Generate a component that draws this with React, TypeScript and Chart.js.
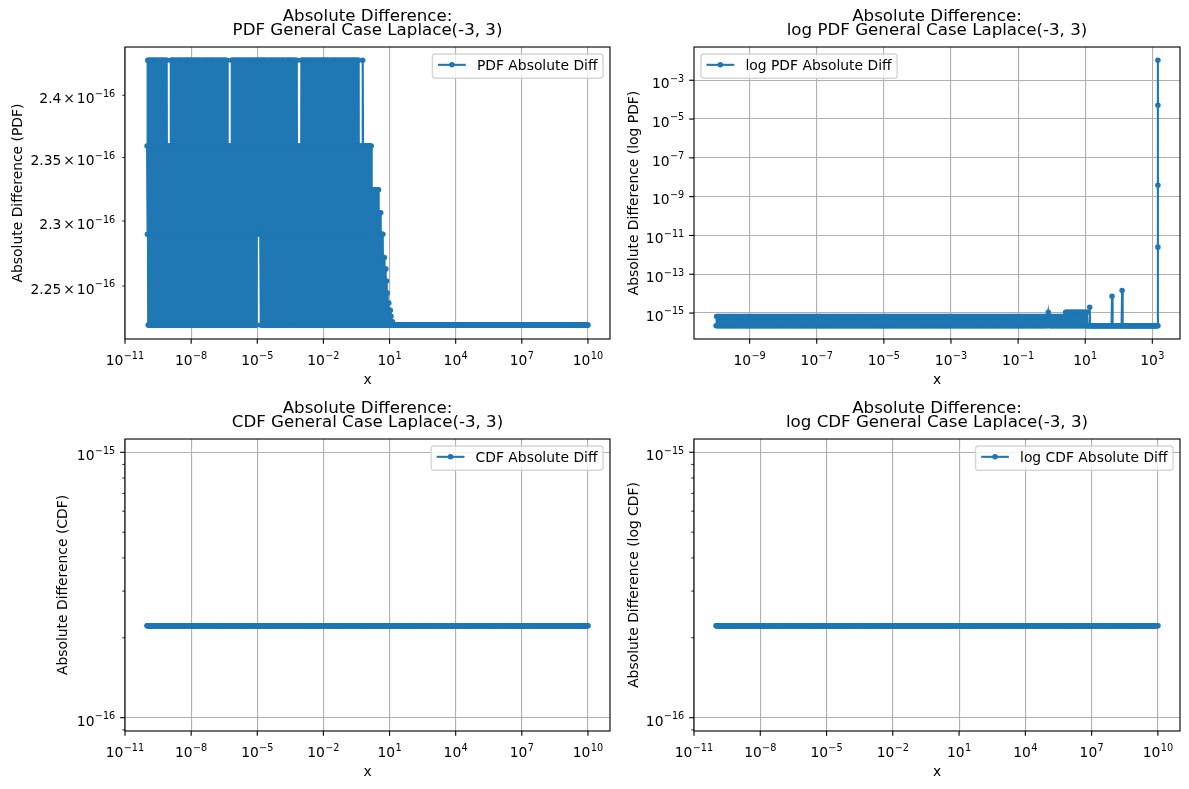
import React, { useEffect, useRef } from 'react';
import { Chart, registerables } from 'chart.js';

Chart.register(...registerables);

// ---------------- figure constants ----------------
const FIG_W = 1189;
const FIG_H = 789;
const BLUE = '#1f77b4';
const FONT = '"DejaVu Sans", "Liberation Sans", sans-serif';
const PT = 100 / 72;
const TICK_PX = 10 * PT;
const SUP_PX = 0.7 * TICK_PX;
const TITLE_PX = 12 * PT;

// ---------------- data ----------------
// sampling grid: 60 points per decade starting at 1e-10
const POINTS_PER_DECADE = 60;
const FIRST_EXPONENT = -10;

// PDF absolute difference (+eps); level codes -> value in units of 1e-16
const PDF_LEVEL_VALUES: Record<string, number> = {
  '0': 2.2204, '1': 2.2898, '2': 2.3592, '3': 2.4286,
  a: 2.3245, b: 2.3065, c: 2.2718, d: 2.263, e: 2.2538,
  f: 2.2446, g: 2.237, h: 2.2315, j: 2.227, k: 2.223,
};
const ZERO_DECADE = '0000000000 0000000000 0000000000 0000000000 0000000000 0000000000';
const PDF_DIFF_CODES = [
  '2130303203 0230310303 0303023103 0320301303 0310302303 0301302020', // 1e-10
  '2010230303 0303103023 0130303203 0303203013 0230310303 0310302303', // 1e-9
  '0320301303 0303023103 0303103023 0310302303 0130303203 0230310303', // 1e-8
  '0303203013 0303103023 0303023103 0302310130 2010201020 3031030303', // 1e-7
  '0230310303 0130303203 0310302303 0320301303 0303103023 0302303103', // 1e-6
  '1313121313 0303023103 0303203013 0230310303 0320301303 0130303203', // 1e-5
  '0310302303 0303103023 0130303203 0303023103 0302310230 2010201020', // 1e-4
  '3030310303 0320301303 0303203013 0303103023 0310302303 0230310303', // 1e-3
  '0130303203 0303023103 0230310303 0303203013 0320301303 0303103023', // 1e-2
  '0310302303 0320301303 0303023103 0302303020 1020102320 2020202020', // 1e-1
  '2020202020 20a0a0a0a0 a0a0a0a0a0 a0b0b0b010 1010c0c0d0 d0e0f0g0g0', // 1e0
  'h0h0j0k0k0 0000000000 0000000000 0000000000 0000000000 0000000000', // 1e1
  ZERO_DECADE, ZERO_DECADE, ZERO_DECADE, ZERO_DECADE, // 1e2 .. 1e5
  ZERO_DECADE, ZERO_DECADE, ZERO_DECADE, ZERO_DECADE, // 1e6 .. 1e9
  '0', // 1e10
];

// log PDF absolute difference (+eps); level codes -> value
const LOGPDF_LEVEL_VALUES: Record<string, number> = {
  '0': 2.220446e-16, '1': 6.661338e-16, '2': 1.110223e-15,
  '3': 1.998401e-15, '4': 7.327472e-15, '5': 1.44329e-14,
};
const BAND_DECADE = '0101010101 0101010101 0101010101 0101010101 0101010101 0101010101';
const LOGPDF_DIFF_CODES = [
  BAND_DECADE, BAND_DECADE, BAND_DECADE, BAND_DECADE, BAND_DECADE, // 1e-10 .. 1e-6
  BAND_DECADE, BAND_DECADE, BAND_DECADE, BAND_DECADE, // 1e-5 .. 1e-2
  '0101010101 0101010101 0101010101 0101010101 0101010101 0101210101', // 1e-1
  '0101010101 0101010101 0101020202 0202020202 0202020202 0202020202', // 1e0
  '0202000030 0000000000 0000000000 0000000000 0000000040 0000000000', // 1e1
  '0000005000 0000000000 0000000000 0000000000 0000000000 0000000000', // 1e2
  '00000000000', // 1e3 .. ~1.47e3
];
// final vertical run of points at the last x of the log PDF series
const LOGPDF_DIFF_SPIKE = [2.5e-12, 3.9e-9, 5.1e-5, 1.07e-2];

// CDF / log CDF absolute differences (+eps): constant at eps over the whole grid
const CDF_ABS_DIFF = 2.220446e-16;
const LOGCDF_ABS_DIFF = 2.220446e-16;
const GRID_COUNT = 1201; // 1e-10 .. 1e10

// ticks
const X_TICKS_WIDE = [1e-11, 1e-8, 1e-5, 1e-2, 1e1, 1e4, 1e7, 1e10];
const X_TICKS_LOGPDF = [1e-9, 1e-7, 1e-5, 1e-3, 1e-1, 1e1, 1e3];
const Y_TICKS_PDF = [2.25e-16, 2.3e-16, 2.35e-16, 2.4e-16];
const Y_TICK_MANTISSAS_PDF = ['2.25', '2.3', '2.35', '2.4'];
const Y_TICKS_LOGPDF = [1e-15, 1e-13, 1e-11, 1e-9, 1e-7, 1e-5, 1e-3];
const Y_TICKS_CDF = [1e-16, 1e-15];
const Y_MINOR_CDF = [9e-17, 2e-16, 3e-16, 4e-16, 5e-16, 6e-16, 7e-16, 8e-16, 9e-16];

// ---------------- helpers ----------------
type Pt = { x: number; y: number };

function gridX(k: number): number {
  return Math.pow(10, FIRST_EXPONENT + k / POINTS_PER_DECADE);
}

function decode(codes: string[], levels: Record<string, number>, unit: number): Pt[] {
  const chars = codes.join('').replace(/\s+/g, '');
  return Array.from(chars, (c, k) => ({ x: gridX(k), y: levels[c] * unit }));
}

const PDF_POINTS = decode(PDF_DIFF_CODES, PDF_LEVEL_VALUES, 1e-16);
const LOGPDF_POINTS = (() => {
  const pts = decode(LOGPDF_DIFF_CODES, LOGPDF_LEVEL_VALUES, 1);
  const lastX = pts[pts.length - 1].x;
  LOGPDF_DIFF_SPIKE.forEach((v) => pts.push({ x: lastX, y: v }));
  return pts;
})();
const CDF_POINTS: Pt[] = Array.from({ length: GRID_COUNT }, (_, k) => ({ x: gridX(k), y: CDF_ABS_DIFF }));
const LOGCDF_POINTS: Pt[] = Array.from({ length: GRID_COUNT }, (_, k) => ({ x: gridX(k), y: LOGCDF_ABS_DIFF }));

type Box = { l: number; r: number; t: number; b: number };
type Panel = {
  id: string;
  box: Box;
  title: string;
  ylabel: string;
  ylabelX: number;
  legend: string;
  legendLoc: 'left' | 'right';
  points: Pt[];
  xMin: number;
  xMax: number;
  xTicks: number[];
  yMin: number;
  yMax: number;
  yMajor: number[];
  yMinor: number[];
  yGrid: boolean;
  yMantissas?: string[];
};

const PANELS: Panel[] = [
  {
    id: 'pdf',
    box: { l: 125, r: 610, t: 47, b: 339 },
    title: 'PDF General Case Laplace(-3, 3)',
    ylabel: 'Absolute Difference (PDF)',
    ylabelX: 21.5,
    legend: 'PDF Absolute Diff',
    legendLoc: 'right',
    points: PDF_POINTS,
    xMin: 1e-11, xMax: 1e11, xTicks: X_TICKS_WIDE,
    yMin: 2.2105e-16, yMax: 2.4395e-16,
    yMajor: [], yMinor: Y_TICKS_PDF, yGrid: false, yMantissas: Y_TICK_MANTISSAS_PDF,
  },
  {
    id: 'logpdf',
    box: { l: 694, r: 1180, t: 47, b: 339 },
    title: 'log PDF General Case Laplace(-3, 3)',
    ylabel: 'Absolute Difference (log PDF)',
    ylabelX: 638,
    legend: 'log PDF Absolute Diff',
    legendLoc: 'left',
    points: LOGPDF_POINTS,
    xMin: Math.pow(10, -10.658), xMax: Math.pow(10, 3.825), xTicks: X_TICKS_LOGPDF,
    yMin: Math.pow(10, -16.338), yMax: Math.pow(10, -1.286),
    yMajor: Y_TICKS_LOGPDF, yMinor: [], yGrid: true,
  },
  {
    id: 'cdf',
    box: { l: 125, r: 610, t: 439, b: 731 },
    title: 'CDF General Case Laplace(-3, 3)',
    ylabel: 'Absolute Difference (CDF)',
    ylabelX: 66.5,
    legend: 'CDF Absolute Diff',
    legendLoc: 'right',
    points: CDF_POINTS,
    xMin: 1e-11, xMax: 1e11, xTicks: X_TICKS_WIDE,
    yMin: Math.pow(10, -16.05), yMax: Math.pow(10, -14.95),
    yMajor: Y_TICKS_CDF, yMinor: Y_MINOR_CDF, yGrid: true,
  },
  {
    id: 'logcdf',
    box: { l: 694, r: 1180, t: 439, b: 731 },
    title: 'log CDF General Case Laplace(-3, 3)',
    ylabel: 'Absolute Difference (log CDF)',
    ylabelX: 638,
    legend: 'log CDF Absolute Diff',
    legendLoc: 'right',
    points: LOGCDF_POINTS,
    xMin: 1e-11, xMax: 1e11, xTicks: X_TICKS_WIDE,
    yMin: Math.pow(10, -16.05), yMax: Math.pow(10, -14.95),
    yMajor: Y_TICKS_CDF, yMinor: Y_MINOR_CDF, yGrid: true,
  },
];

function drawSci(
  ctx: CanvasRenderingContext2D,
  mant: string | null,
  exp: number,
  x: number,
  baseline: number,
  align: 'center' | 'right',
) {
  const big = `${TICK_PX}px ${FONT}`;
  const small = `${SUP_PX}px ${FONT}`;
  const expText = (exp < 0 ? '\u2212' : '') + String(Math.abs(exp));
  const pieces: [string, string, number, number][] = [];
  if (mant !== null) {
    pieces.push([mant, big, 0, 0]);
    pieces.push(['\u00d7', big, 1.9, 0]);
    pieces.push(['10', big, 1.9, 0]);
  } else {
    pieces.push(['10', big, 0, 0]);
  }
  pieces.push([expText, small, 0.3, -6.5]);
  let total = 0;
  const widths = pieces.map(([t, f, dx]) => {
    ctx.font = f;
    const w = ctx.measureText(t).width;
    total += dx + w;
    return w;
  });
  let cx = align === 'center' ? x - total / 2 : x - total;
  ctx.textAlign = 'left';
  ctx.textBaseline = 'alphabetic';
  ctx.fillStyle = '#000';
  pieces.forEach(([t, f, dx, dy], i) => {
    cx += dx;
    ctx.font = f;
    ctx.fillText(t, cx, baseline + dy);
    cx += widths[i];
  });
}

function roundRectPath(ctx: CanvasRenderingContext2D, x: number, y: number, w: number, h: number, r: number) {
  ctx.beginPath();
  ctx.moveTo(x + r, y);
  ctx.lineTo(x + w - r, y);
  ctx.arcTo(x + w, y, x + w, y + r, r);
  ctx.lineTo(x + w, y + h - r);
  ctx.arcTo(x + w, y + h, x + w - r, y + h, r);
  ctx.lineTo(x + r, y + h);
  ctx.arcTo(x, y + h, x, y + h - r, r);
  ctx.lineTo(x, y + r);
  ctx.arcTo(x, y, x + r, y, r);
  ctx.closePath();
}

function makeDecor(p: Panel) {
  return {
    id: 'decor_' + p.id,
    afterDraw(chart: any) {
      const ctx: CanvasRenderingContext2D = chart.ctx;
      const { left, right, top, bottom } = chart.chartArea;
      const xs = chart.scales.x;
      const ys = chart.scales.y;
      ctx.save();

      // spines
      ctx.strokeStyle = '#000';
      ctx.lineWidth = 0.8 * PT;
      ctx.strokeRect(left, top, right - left, bottom - top);

      // x ticks + labels
      ctx.lineWidth = 0.8 * PT;
      p.xTicks.forEach((v) => {
        const px = xs.getPixelForValue(v);
        ctx.beginPath();
        ctx.moveTo(px, bottom);
        ctx.lineTo(px, bottom + 3.5 * PT);
        ctx.stroke();
        drawSci(ctx, null, Math.round(Math.log10(v)), px, bottom + 26, 'center');
      });

      // y major ticks
      p.yMajor.forEach((v) => {
        const py = ys.getPixelForValue(v);
        ctx.lineWidth = 0.8 * PT;
        ctx.beginPath();
        ctx.moveTo(left, py);
        ctx.lineTo(left - 3.5 * PT, py);
        ctx.stroke();
        drawSci(ctx, null, Math.round(Math.log10(v)), left - 7 * PT, py + 7.8, 'right');
      });
      // y minor ticks
      p.yMinor.forEach((v, i) => {
        const py = ys.getPixelForValue(v);
        ctx.lineWidth = 0.6 * PT;
        ctx.beginPath();
        ctx.moveTo(left, py);
        ctx.lineTo(left - 2 * PT, py);
        ctx.stroke();
        if (p.yMantissas) {
          drawSci(ctx, p.yMantissas[i], -16, left - 7 * PT, py + 8, 'right');
        }
      });

      // axis labels
      ctx.fillStyle = '#000';
      ctx.font = `${TICK_PX}px ${FONT}`;
      ctx.textAlign = 'center';
      ctx.textBaseline = 'alphabetic';
      ctx.fillText('x', (left + right) / 2, bottom + 45);
      ctx.save();
      ctx.translate(p.ylabelX, (top + bottom) / 2);
      ctx.rotate(-Math.PI / 2);
      ctx.fillText(p.ylabel, 0, 0);
      ctx.restore();

      // title
      ctx.font = `${TITLE_PX}px ${FONT}`;
      ctx.textAlign = 'center';
      ctx.fillText('Absolute Difference:', (left + right) / 2, top - 26.5);
      ctx.fillText(p.title, (left + right) / 2, top - 12.2);

      // legend
      const fs = TICK_PX;
      ctx.font = `${fs}px ${FONT}`;
      const tw = ctx.measureText(p.legend).width;
      const w = 0.4 * fs + 2 * fs + 0.8 * fs + tw + 0.4 * fs;
      const h = 24.3;
      const x0 = p.legendLoc === 'right' ? right - 0.5 * fs - w : left + 0.5 * fs;
      const y0 = top + 0.5 * fs;
      roundRectPath(ctx, x0, y0, w, h, 0.2 * fs);
      ctx.fillStyle = 'rgba(255,255,255,0.8)';
      ctx.fill();
      ctx.strokeStyle = 'rgba(204,204,204,0.8)';
      ctx.lineWidth = 1 * PT;
      ctx.stroke();
      const hy = y0 + 10.9;
      ctx.strokeStyle = BLUE;
      ctx.lineWidth = 1.5 * PT;
      ctx.beginPath();
      ctx.moveTo(x0 + 0.4 * fs, hy);
      ctx.lineTo(x0 + 2.4 * fs, hy);
      ctx.stroke();
      ctx.beginPath();
      ctx.arc(x0 + 1.4 * fs, hy, 1.5 * PT, 0, Math.PI * 2);
      ctx.fillStyle = BLUE;
      ctx.fill();
      ctx.lineWidth = 1 * PT;
      ctx.stroke();
      ctx.fillStyle = '#000';
      ctx.textAlign = 'left';
      ctx.fillText(p.legend, x0 + 3.2 * fs, y0 + 16.2);

      ctx.restore();
    },
  };
}

function buildConfig(p: Panel): any {
  return {
    type: 'line',
    data: {
      datasets: [
        {
          label: p.legend,
          data: p.points,
          borderColor: BLUE,
          backgroundColor: BLUE,
          borderWidth: 1.5 * PT,
          pointRadius: 1.5 * PT,
          pointHoverRadius: 1.5 * PT,
          pointBorderWidth: 1 * PT,
          pointBackgroundColor: BLUE,
          pointBorderColor: BLUE,
          tension: 0,
          fill: false,
        },
      ],
    },
    options: {
      animation: false,
      responsive: false,
      maintainAspectRatio: false,
      devicePixelRatio: 1,
      events: [],
      layout: {
        padding: { left: p.box.l, right: FIG_W - p.box.r, top: p.box.t, bottom: FIG_H - p.box.b },
      },
      plugins: {
        legend: { display: false },
        title: { display: false },
        tooltip: { enabled: false },
      },
      scales: {
        x: {
          type: 'logarithmic',
          position: 'bottom',
          min: p.xMin,
          max: p.xMax,
          border: { display: false },
          ticks: { display: false },
          grid: { display: true, drawTicks: false, color: '#b0b0b0', lineWidth: 0.8 * PT },
          afterBuildTicks: (s: any) => {
            s.ticks = p.xTicks.map((v) => ({ value: v }));
          },
          afterFit: (s: any) => {
            s.height = 0;
          },
        },
        y: {
          type: 'logarithmic',
          position: 'left',
          min: p.yMin,
          max: p.yMax,
          border: { display: false },
          ticks: { display: false },
          grid: { display: p.yGrid, drawTicks: false, color: '#b0b0b0', lineWidth: 0.8 * PT },
          afterBuildTicks: (s: any) => {
            s.ticks = p.yMajor.map((v) => ({ value: v }));
          },
          afterFit: (s: any) => {
            s.width = 0;
          },
        },
      },
    },
    plugins: [makeDecor(p)],
  };
}

function PanelChart({ panel }: { panel: Panel }) {
  const ref = useRef<HTMLCanvasElement>(null);
  useEffect(() => {
    const chart = new Chart(ref.current as HTMLCanvasElement, buildConfig(panel));
    return () => chart.destroy();
  }, [panel]);
  return (
    <canvas
      ref={ref}
      width={FIG_W}
      height={FIG_H}
      style={{ position: 'absolute', left: 0, top: 0, width: FIG_W, height: FIG_H }}
    />
  );
}

export default function App() {
  return (
    <div
      style={{
        position: 'absolute',
        left: 0,
        top: 0,
        width: FIG_W,
        height: FIG_H,
        background: '#fff',
        overflow: 'hidden',
      }}
    >
      {PANELS.map((p) => (
        <PanelChart key={p.id} panel={p} />
      ))}
    </div>
  );
}
